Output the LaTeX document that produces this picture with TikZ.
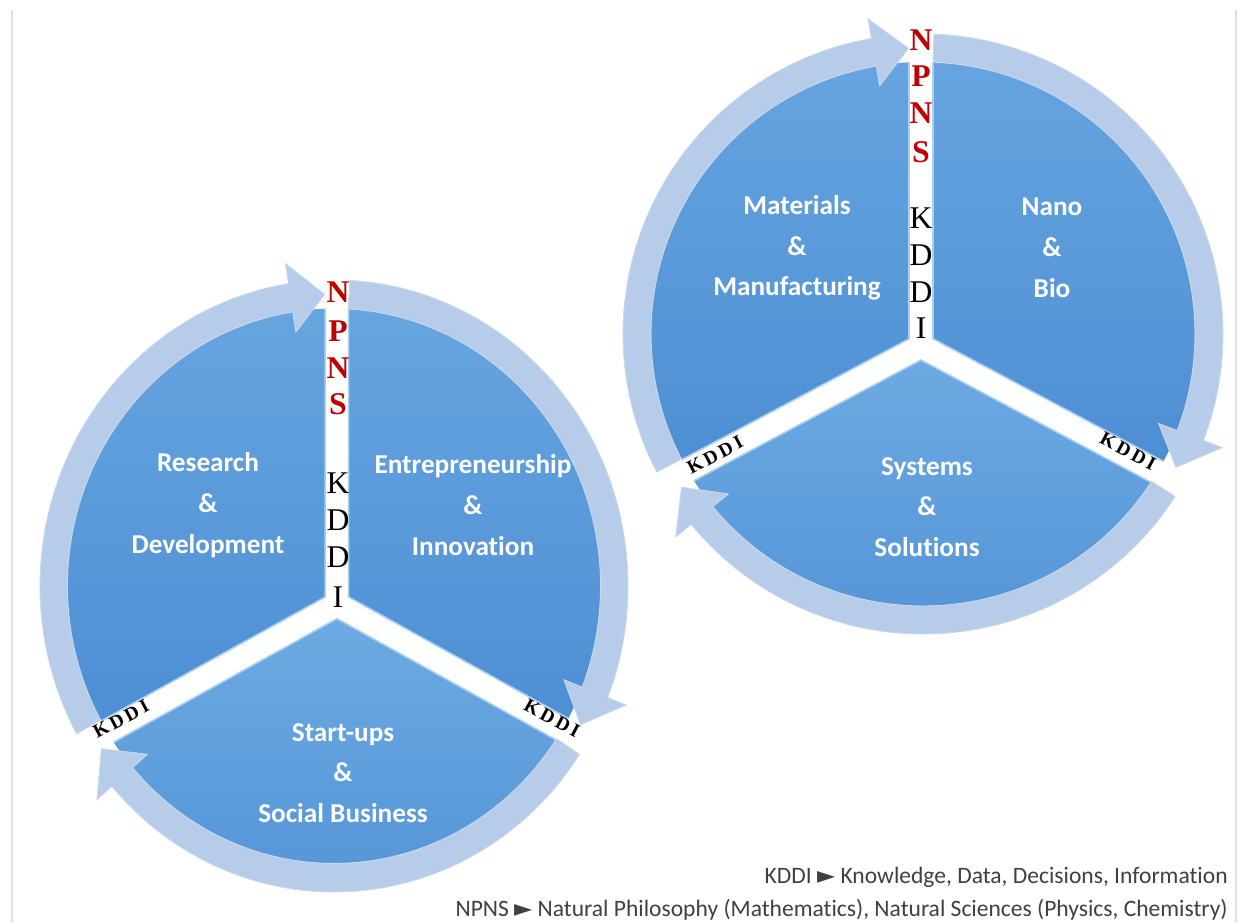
\documentclass[tikz,border=0pt]{standalone}
\usepackage{fontspec}
\setmainfont{Carlito}[Ligatures=NoCommon]
\newfontfamily\gapfont{Liberation Serif}
\newfontfamily\symfont{DejaVu Sans}

\definecolor{sliceTop}{HTML}{6DAAE3}
\definecolor{sliceBot}{HTML}{4A8CD2}
\definecolor{sliceEdge}{HTML}{A9D0F3}
\definecolor{ringFill}{HTML}{B7CCE9}
\definecolor{ringEdge}{HTML}{C8D8EE}
\definecolor{npnsRed}{HTML}{C00000}
\definecolor{noteGray}{HTML}{404040}

\tikzset{
  piece/.style={top color=sliceTop, bottom color=sliceBot, draw=sliceEdge, line width=0.9pt},
  cyclearrow/.style={fill=ringFill, draw=ringEdge, line width=0.5pt},
  seclabel/.style={text=white, font=\bfseries\fontsize{15.5}{23.2}\selectfont, align=center},
  npns/.style={text=npnsRed, font=\gapfont\bfseries\fontsize{18}{18}\selectfont, inner sep=0pt},
  kddi/.style={text=black, font=\gapfont\fontsize{18}{18}\selectfont, inner sep=0pt},
  kddiside/.style={text=black, font=\gapfont\bfseries\fontsize{11}{11}\selectfont, inner sep=0pt},
  note/.style={text=noteGray, font=\fontsize{13.4}{15}\selectfont, anchor=east, inner sep=0pt}
}

% one slice: start angle, end angle, gap shift, reach
\newcommand{\pieslice}[4]{%
  \path[piece] ({(#1+#2)/2}:#3) -- +(#1:#4) -- +({(#1+#2)/2}:#4) -- +(#2:#4) -- cycle;}
% ring arrow, clockwise: tail angle, tip angle, inner r, outer r
\newcommand{\cyclearc}[4]{%
  \path[cyclearrow] (#1:#4) arc[start angle=#1, end angle={#2+7}, radius=#4]
    -- ({#2+7}:{#4+20}) -- (#2:{(#3+#4)/2}) -- ({#2+7}:{#3-20}) -- ({#2+7}:#3)
    arc[start angle={#2+7}, end angle=#1, radius=#3] -- cycle;}

\begin{document}
\begin{tikzpicture}[x=0.02cm, y=0.02cm]
\fill[white] (0,0) rectangle (1239,922);
\useasboundingbox (0,0) rectangle (1239,922);
\draw[black!12, line width=0.6pt] (12,0) -- (12,912);
\draw[black!12, line width=0.6pt] (1236,0) -- (1236,912);

% left cycle
\begin{scope}[shift={(334,336)}, xscale=0.98, yscale=1.02]
  \begin{scope}
    \clip (0,0) circle[radius=272];
    \begin{scope}[shift={(3,-18)}]
      \pieslice{90}{208}{14}{380}
      \pieslice{-28}{90}{14}{380}
      \pieslice{208}{332}{14}{380}
    \end{scope}
  \end{scope}
  \cyclearc{208.9}{91.9}{272}{300}
  \cyclearc{86.9}{-28.4}{272}{300}
  \cyclearc{-33.4}{-146.1}{272}{300}
\end{scope}

% right cycle
\begin{scope}[shift={(923,588)}]
  \begin{scope}
    \clip (0,0) circle[radius=272];
    \begin{scope}[shift={(-2,-12)}]
      \pieslice{90}{208}{14}{380}
      \pieslice{-28}{90}{14}{380}
      \pieslice{208}{332}{14}{380}
    \end{scope}
  \end{scope}
  \cyclearc{207.4}{92.9}{272}{300}
  \cyclearc{87.9}{-27.8}{272}{300}
  \cyclearc{-32.8}{-147.6}{272}{300}
\end{scope}

\node[seclabel] (rd) at (208,417) {Research\\\&\\Development};
\node[seclabel] (ei) at (473,417) {Entrepreneurship\\\&\\Innovation};
\node[seclabel] (sb) at (343,149) {Start-ups\\\&\\Social Business};
\node[seclabel] (mm) at (797,674) {Materials\\\&\\Manufacturing};
\node[seclabel] (nb) at (1052,674) {Nano\\\&\\Bio};
\node[seclabel] (ss) at (927,415) {Systems\\\&\\Solutions};

\foreach \ch/\yy [count=\i] in {N/630,P/591,N/554,S/518}
  \node[npns] (lnp\i) at (338,\yy) {\ch};
\foreach \ch/\yy [count=\i] in {K/439,D/402,D/365,I/325}
  \node[kddi] (lkd\i) at (338,\yy) {\ch};
\foreach \ch/\yy [count=\i] in {N/882,P/846,N/809,S/770}
  \node[npns] (rnp\i) at (921,\yy) {\ch};
\foreach \ch/\yy [count=\i] in {K/704,D/667,D/630,I/594}
  \node[kddi] (rkd\i) at (921,\yy) {\ch};

\node[kddiside, rotate=28] (lkdl) at (121,203) {K\,D\,D\,I};
\node[kddiside, rotate=-28] (lkdr) at (552,204) {K\,D\,D\,I};
\node[kddiside, rotate=28] (rkdl) at (715,467) {K\,D\,D\,I};
\node[kddiside, rotate=-28] (rkdr) at (1128,471) {K\,D\,D\,I};

\node[note] (kddinote) at (1228,45) {KDDI {\symfont ►} Knowledge, Data, Decisions, Information};
\node[note] (npnsnote) at (1228,12) {NPNS {\symfont ►} Natural Philosophy (Mathematics), Natural Sciences (Physics, Chemistry)};
\end{tikzpicture}
\end{document}
